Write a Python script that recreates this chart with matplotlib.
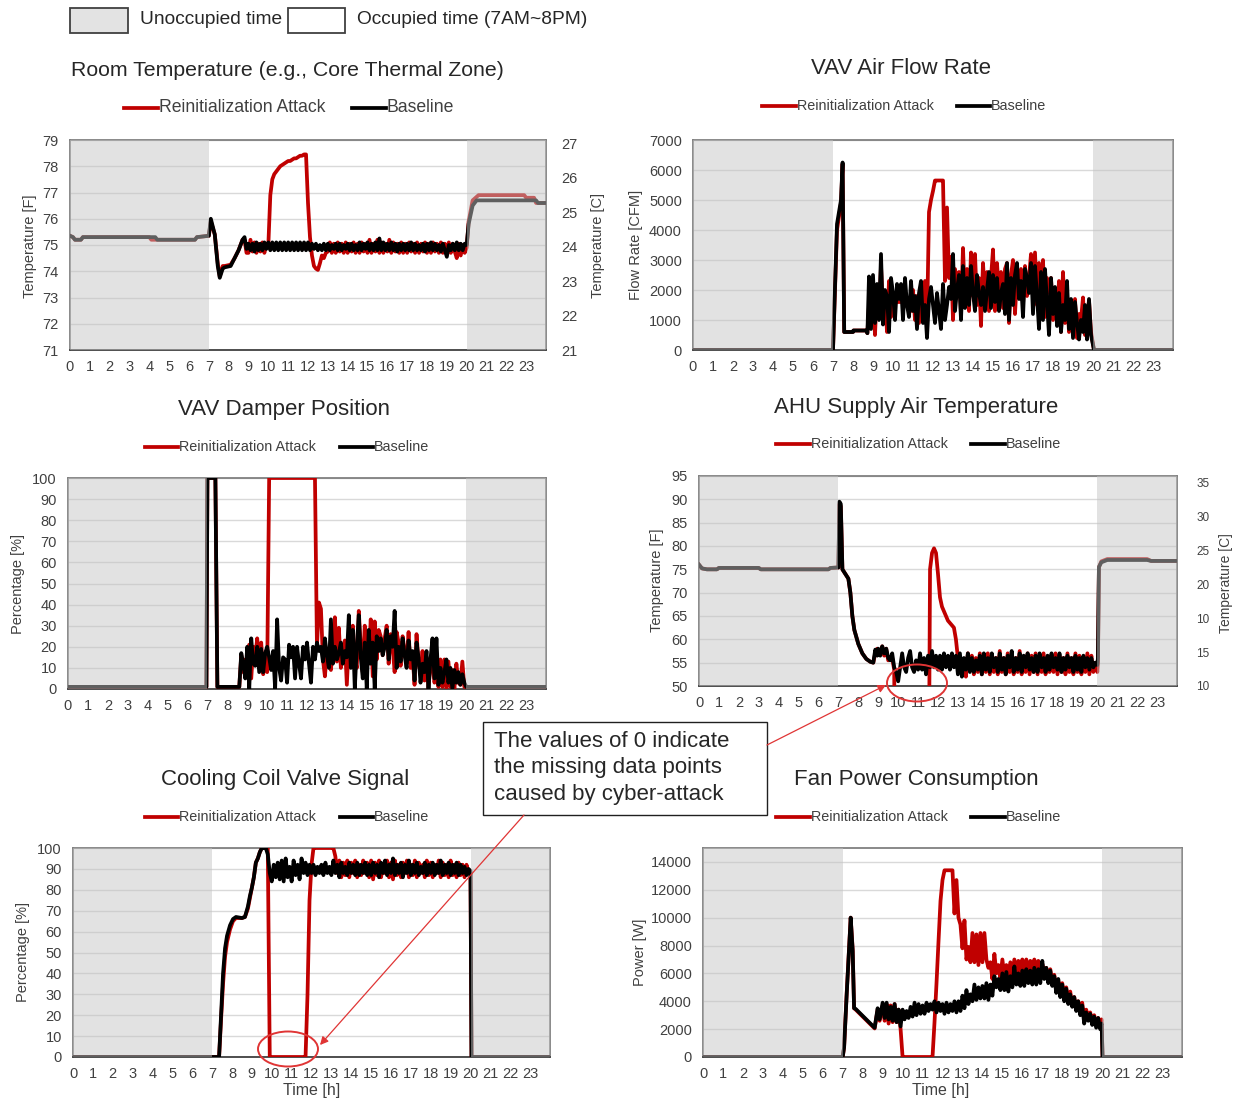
import numpy as np
import matplotlib
matplotlib.use("Agg")
import matplotlib.pyplot as plt
from matplotlib.patches import Rectangle, Ellipse, FancyArrowPatch
from matplotlib.lines import Line2D

plt.rcParams['font.family'] = ['Liberation Sans', 'DejaVu Sans']

# ---------------------------------------------------------------- data
HOUR_LABELS = [str(h) for h in range(24)]
GRID_START = 9.0      # noisy part sampled every 0.1 h from 9.0 to 19.9
GRID_STEP = 0.1

# --- Room temperature [F]
room_base_pre_t = [0, 0.15, 0.25, 0.55, 0.65, 4.3, 4.4, 6.3, 6.4, 7.0, 7.1, 7.3, 7.45, 7.55, 7.7, 7.8, 8.1, 8.3, 8.5, 8.7, 8.8, 8.9]
room_base_pre_v = [75.35, 75.3, 75.2, 75.2, 75.3, 75.3, 75.2, 75.2, 75.3, 75.35, 76.0, 75.4, 74.2, 73.75, 74.1, 74.15, 74.2, 74.5, 74.8, 75.2, 75.3, 74.85]
room_base_grid = [
    [75.05, 74.8, 75.05, 74.75, 75.1, 74.8, 75.05, 74.8, 75.1, 74.85],
    [75.1, 74.8, 75.1, 74.8, 75.1, 74.8, 75.1, 74.8, 75.1, 74.8],
    [75.1, 74.8, 75.1, 74.8, 75.1, 74.8, 75.1, 74.8, 75.1, 74.8],
    [75.1, 74.8, 75.05, 74.85, 75.05, 74.8, 75.0, 74.8, 75.05, 74.8],
    [75.05, 74.8, 75.0, 74.85, 75.05, 74.8, 75.05, 74.8, 75.0, 74.85],
    [75.05, 74.8, 75.05, 74.8, 75.0, 74.8, 75.1, 74.8, 75.05, 74.85],
    [75.1, 74.8, 75.05, 74.8, 75.1, 74.8, 75.25, 74.8, 75.1, 74.8],
    [75.05, 74.8, 75.1, 74.8, 75.05, 74.75, 75.05, 74.8, 75.05, 74.8],
    [75.05, 74.8, 75.1, 74.8, 75.05, 74.8, 75.0, 74.8, 75.05, 74.75],
    [75.05, 74.8, 75.1, 74.8, 75.05, 74.8, 75.0, 74.75, 75.05, 74.8],
    [74.55, 75.0, 74.8, 75.05, 74.8, 75.1, 74.8, 75.05, 74.8, 75.05],
]
room_base_post_t = [20.0, 20.1, 20.3, 20.5, 23.5, 23.6, 24.0]
room_base_post_v = [75.0, 75.8, 76.5, 76.7, 76.7, 76.6, 76.6]

room_att_pre_t = [0, 0.15, 0.25, 0.55, 0.65, 4.0, 4.1, 6.3, 6.4, 7.0, 7.1, 7.3, 7.45, 7.55, 7.7, 7.8, 8.1, 8.3, 8.5, 8.7, 8.8, 8.9]
room_att_pre_v = [75.35, 75.3, 75.2, 75.2, 75.3, 75.3, 75.2, 75.2, 75.3, 75.35, 75.9, 75.4, 74.3, 73.8, 74.2, 74.2, 74.25, 74.5, 74.8, 75.2, 75.2, 74.7]
room_att_grid = [
    [74.7, 75.2, 74.75, 75.1, 74.7, 75.05, 74.75, 75.1, 74.7, 75.0],
    [75.0, 76.9, 77.5, 77.7, 77.8, 77.9, 78.0, 78.05, 78.1, 78.15],
    [78.2, 78.2, 78.25, 78.3, 78.3, 78.35, 78.4, 78.4, 78.45, 78.45],
    [76.6, 75.3, 74.6, 74.2, 74.1, 74.05, 74.3, 74.6, 74.5, 74.7],
    [74.75, 75.1, 74.7, 75.05, 74.7, 75.1, 74.75, 75.05, 74.7, 75.1],
    [74.7, 75.05, 74.75, 75.1, 74.7, 75.05, 74.7, 75.1, 74.75, 75.05],
    [74.7, 75.2, 74.7, 75.05, 74.75, 75.2, 74.7, 75.1, 74.7, 75.05],
    [74.75, 75.2, 74.7, 75.1, 74.75, 75.05, 74.7, 75.1, 74.7, 75.05],
    [74.7, 75.1, 74.75, 75.05, 74.7, 75.1, 74.7, 75.05, 74.75, 75.1],
    [74.7, 75.05, 74.7, 75.1, 74.75, 75.05, 74.7, 75.1, 74.7, 75.05],
    [74.7, 75.1, 74.7, 75.05, 74.75, 74.5, 75.05, 74.6, 75.0, 74.7],
]
room_att_post_t = [20.0, 20.1, 20.3, 20.6, 22.9, 23.0, 23.4, 23.5, 24.0]
room_att_post_v = [74.9, 75.9, 76.7, 76.9, 76.9, 76.8, 76.8, 76.6, 76.6]

# --- VAV air flow rate [CFM]
flow_base_pre_t = [0, 7.0, 7.2, 7.4, 7.48, 7.56, 8.0, 8.02, 8.65, 8.72, 8.8, 8.9]
flow_base_pre_v = [0, 0, 4200, 5000, 6250, 600, 600, 650, 650, 560, 2450, 700]
flow_base_grid = [
    [2500, 900, 2200, 1000, 3200, 850, 2000, 1800, 600, 2400],
    [1900, 1000, 2200, 1700, 2200, 1000, 2400, 1500, 1100, 2300],
    [1300, 1800, 700, 1900, 2300, 900, 1500, 400, 1700, 2100],
    [1500, 900, 1900, 1300, 700, 2200, 1000, 1500, 2100, 1700],
    [3200, 1300, 2000, 2500, 1000, 2800, 1400, 2400, 1500, 2800],
    [1900, 1300, 2500, 1900, 1500, 2100, 1300, 2000, 2600, 1400],
    [2500, 1600, 2400, 1300, 1900, 2200, 1200, 2900, 1000, 2400],
    [1500, 2500, 2900, 1700, 2300, 1100, 2700, 2400, 1900, 2900],
    [1200, 2800, 1800, 700, 2600, 1000, 2700, 1600, 500, 2400],
    [1200, 2100, 800, 1900, 600, 1500, 1000, 2300, 700, 1700],
    [400, 1600, 900, 350, 1000, 600, 1500, 350, 1700, 500],
]
flow_base_post_t = [20.05, 24.0]
flow_base_post_v = [0, 0]

flow_att_pre_t = [0, 7.0, 7.2, 7.4, 7.48, 7.56, 8.0, 8.02, 8.65, 8.72, 8.8, 8.9]
flow_att_pre_v = [0, 0, 4000, 4900, 6200, 600, 600, 650, 650, 560, 1500, 2300]
flow_att_grid = [
    [1800, 500, 2100, 1200, 2800, 1400, 1900, 600, 2300, 1100],
    [1700, 1600, 1600, 1600, 1600, 1600, 1600, 1600, 1700, 1300],
    [2000, 1000, 1800, 900, 1900, 1200, 2300, 900, 4600, 5000],
    [5300, 5650, 5650, 5650, 5650, 5650, 2300, 4750, 2400, 3100],
    [1000, 2700, 2200, 2600, 1200, 3400, 1600, 2700, 1300, 3250],
    [1800, 3200, 1500, 2400, 800, 2900, 1700, 2600, 1300, 2400],
    [3350, 1300, 2900, 1800, 2600, 1400, 2700, 2900, 900, 2500],
    [3000, 1200, 2500, 1900, 2700, 1500, 2800, 1800, 2400, 3200],
    [1700, 3250, 1500, 2900, 1400, 3000, 1100, 2400, 1900, 2400],
    [1000, 2000, 1100, 2300, 600, 2600, 900, 1800, 600, 1300],
    [800, 1700, 400, 1200, 1000, 1750, 500, 1100, 1650, 600],
]
flow_att_post_t = [20.05, 24.0]
flow_att_post_v = [0, 0]

# --- VAV damper position [%]
damp_base_pre_t = [0, 6.95, 7.0, 7.4, 7.5, 8.6, 8.7, 8.8, 8.9]
damp_base_pre_v = [1, 1, 100, 100, 1, 1, 17, 12, 5]
damp_base_grid = [
    [20, 0, 24, 12, 11, 20, 8, 19, 8, 17],
    [20, 15, 9, 18, 0, 33, 10, 4, 15, 14],
    [3, 21, 15, 20, 5, 20, 12, 5, 20, 14],
    [22, 12, 3, 20, 14, 22, 18, 20, 13, 24],
    [16, 10, 33, 12, 20, 14, 17, 22, 12, 18],
    [15, 35, 10, 28, 0, 20, 35, 15, 5, 22],
    [0, 28, 12, 22, 0, 25, 18, 24, 16, 20],
    [28, 14, 25, 20, 37, 10, 20, 13, 24, 16],
    [10, 23, 14, 18, 4, 22, 15, 3, 12, 8],
    [18, 0, 14, 24, 5, 24, 2, 10, 3, 8],
    [14, 3, 10, 0, 9, 3, 8, 2, 7, 3],
]
damp_base_post_t = [20.0, 24.0]
damp_base_post_v = [1, 1]

damp_att_pre_t = [0, 6.95, 7.0, 7.4, 7.5, 8.6, 8.7, 8.8, 8.9]
damp_att_pre_v = [1, 1, 100, 100, 1, 1, 16, 8, 14]
damp_att_grid = [
    [8, 21, 5, 20, 15, 24, 10, 22, 7, 15],
    [8, 100, 100, 100, 100, 100, 100, 100, 100, 100],
    [100, 100, 100, 100, 100, 100, 100, 100, 100, 100],
    [100, 100, 100, 100, 100, 20, 41, 38, 14, 6],
    [18, 12, 9, 20, 34, 13, 29, 10, 18, 23],
    [2, 22, 16, 30, 14, 10, 37, 20, 8, 30],
    [20, 12, 33, 6, 32, 14, 28, 25, 16, 24],
    [30, 12, 26, 20, 8, 27, 22, 11, 25, 18],
    [12, 27, 10, 16, 2, 26, 12, 8, 18, 4],
    [14, 0, 13, 12, 3, 8, 1, 14, 1, 14],
    [0, 13, 1, 9, 0, 12, 3, 2, 13, 1],
]
damp_att_post_t = [20.0, 24.0]
damp_att_post_v = [1, 1]

# --- AHU supply air temperature [F]
sat_base_pre_t = [0, 0.15, 0.4, 0.9, 1.0, 3.0, 3.1, 6.5, 6.6, 7.0, 7.05, 7.12, 7.2, 7.35, 7.5, 7.6, 7.7, 7.8, 8.0, 8.2, 8.4, 8.6, 8.75, 8.85, 8.95]
sat_base_pre_v = [76.0, 75.2, 75.0, 75.0, 75.3, 75.3, 75.0, 75.0, 75.3, 75.4, 89.5, 89.0, 75.0, 74.0, 73.0, 70.0, 65.0, 62.0, 59.0, 57.0, 55.8, 55.2, 55.0, 57.8, 56.5]
sat_base_grid = [
    [58, 56.5, 58.5, 57, 58, 56, 55.5, 57, 54, 53],
    [51, 54, 57, 54, 53, 56, 57.5, 54, 53, 55.5],
    [53.5, 57, 53.5, 56, 52.5, 56.5, 54, 57.5, 54, 56.5],
    [53.5, 56.5, 53.5, 57, 54, 56.5, 53.5, 57, 54, 56.5],
    [52.5, 57, 52, 56, 53.5, 57, 53, 56, 53, 55.5],
    [53.5, 56.5, 52.5, 57, 53.5, 56, 53, 57, 54, 56],
    [53, 57, 53.5, 56, 52.5, 56.5, 54, 57.5, 53, 56],
    [53.5, 57, 53, 56.5, 54, 57, 53.5, 56, 53, 56.5],
    [53, 57, 54, 56, 53, 56.5, 53.5, 57, 54, 56],
    [53.5, 57, 53, 56, 53.5, 56.5, 54, 56, 53, 56.5],
    [53.5, 56, 53, 56.5, 54, 56, 53.5, 56, 54, 55],
]
sat_base_post_t = [20.0, 20.03, 20.08, 20.2, 20.5, 22.5, 22.7, 24.0]
sat_base_post_v = [54.5, 56.0, 75.5, 76.5, 77.0, 77.0, 76.8, 76.8]

sat_att_pre_t = [0, 0.15, 0.4, 0.9, 1.0, 3.0, 3.1, 6.5, 6.6, 7.0, 7.05, 7.12, 7.2, 7.35, 7.5, 7.6, 7.7, 7.8, 8.0, 8.2, 8.4, 8.6, 8.75, 8.85, 8.95]
sat_att_pre_v = [76.0, 75.2, 75.0, 75.0, 75.3, 75.3, 75.0, 75.0, 75.3, 75.4, 89.0, 88.5, 75.0, 74.0, 73.0, 70.0, 65.0, 62.0, 59.0, 57.0, 55.8, 55.2, 55.0, 57.0, 58.0]
sat_att_grid = [
    [57.5, 57, 58.5, 56.5, 58, 55.5, 56, 56, 53.5, 0],
    [0, 0, 0, 0, 0, 0, 0, 0, 0, 0],
    [0, 0, 0, 0, 0, 0, 75, 78.5, 79.5, 78.5],
    [74, 69, 67, 66, 65, 64, 63.5, 63, 62.5, 60],
    [56, 56, 53, 55.5, 52, 57, 53.5, 56.5, 52.5, 56],
    [53, 57, 52.5, 56, 53, 57, 52.5, 56.5, 53, 56],
    [52.5, 57.5, 53, 56, 52.5, 57, 53, 56.5, 52.5, 56],
    [53, 57.5, 52.5, 56, 53, 57, 52.5, 56.5, 53, 57],
    [52.5, 56.5, 53, 57, 52.5, 56, 53, 56.5, 53, 57],
    [52.5, 56.5, 53, 56, 52.5, 57, 53, 56, 52.5, 57],
    [53, 56.5, 52.5, 56, 53, 57, 52.5, 56.5, 53, 55],
]
sat_att_post_t = [20.0, 20.03, 20.08, 20.2, 20.5, 22.5, 22.7, 24.0]
sat_att_post_v = [53.0, 55.0, 75.5, 76.7, 77.2, 77.2, 76.8, 76.8]

# --- Cooling coil valve signal [%]
ccv_base_pre_t = [0, 7.35, 7.45, 7.55, 7.65, 7.75, 7.9, 8.05, 8.2, 8.5, 8.65, 8.8, 8.9]
ccv_base_pre_v = [0, 0, 20, 40, 52, 58, 63, 66, 67, 66.5, 67, 72, 77]
ccv_base_grid = [
    [81, 86, 93, 95, 98, 100, 100, 100, 97, 88],
    [84, 92, 86, 93, 85, 94, 84, 95, 86, 91],
    [84, 94, 87, 92, 85, 95, 88, 93, 87, 92],
    [88, 92, 87, 91, 88, 92, 87, 93, 88, 91],
    [87, 94, 88, 92, 86, 93, 88, 91, 87, 93],
    [88, 92, 87, 93, 87, 92, 88, 93, 87, 92],
    [87, 93, 88, 92, 86, 93, 88, 94, 87, 92],
    [88, 95, 87, 92, 88, 93, 86, 92, 88, 94],
    [87, 92, 88, 93, 87, 91, 88, 93, 87, 92],
    [88, 93, 87, 92, 88, 94, 87, 92, 88, 93],
    [87, 92, 88, 93, 87, 92, 88, 91, 87, 90],
]
ccv_base_post_t = [20.0, 20.05, 24.0]
ccv_base_post_v = [89, 0, 0]

ccv_att_pre_t = [0, 7.35, 7.45, 7.55, 7.65, 7.75, 7.9, 8.05, 8.2, 8.5, 8.65, 8.8, 8.9]
ccv_att_pre_v = [0, 0, 18, 35, 48, 55, 61, 65, 66.5, 66.5, 67, 71, 76]
ccv_att_grid = [
    [81, 86, 93, 95, 98, 100, 100, 100, 100, 0],
    [0, 0, 0, 0, 0, 0, 0, 0, 0, 0],
    [0, 0, 0, 0, 0, 0, 0, 0, 30, 75],
    [92, 100, 100, 100, 100, 100, 100, 100, 100, 100],
    [100, 100, 96, 88, 94, 86, 93, 87, 94, 86],
    [93, 88, 94, 86, 92, 87, 94, 88, 93, 86],
    [94, 85, 93, 87, 94, 86, 92, 88, 94, 86],
    [93, 85, 94, 87, 92, 86, 93, 88, 94, 86],
    [92, 87, 94, 86, 93, 88, 92, 86, 94, 87],
    [93, 86, 92, 88, 94, 86, 93, 87, 92, 86],
    [94, 87, 92, 86, 93, 87, 92, 86, 92, 88],
]
ccv_att_post_t = [20.0, 20.05, 24.0]
ccv_att_post_v = [88, 0, 0]

# --- Fan power consumption [W]
fan_base_pre_t = [0, 7.0, 7.07, 7.2, 7.4, 7.5, 7.57, 7.65, 8.6, 8.75, 8.85]
fan_base_pre_v = [0, 0, 700, 4500, 10000, 7600, 3500, 3450, 2100, 3500, 2700]
fan_base_grid = [
    [3900, 2800, 3900, 2700, 3600, 2600, 3800, 2500, 3400, 2200],
    [3400, 2700, 3300, 2800, 3600, 2900, 3900, 3000, 3800, 3100],
    [3700, 3100, 3900, 3300, 3800, 3400, 4000, 3200, 3900, 3300],
    [3800, 3100, 3900, 3200, 3800, 3300, 4000, 3200, 4000, 3300],
    [4400, 3500, 4800, 3800, 4500, 4000, 5200, 4100, 5000, 4200],
    [5100, 4200, 5300, 4100, 5200, 4400, 5800, 5000, 5600, 4800],
    [6000, 4800, 6100, 4700, 5800, 5000, 6500, 5200, 6000, 5100],
    [6200, 5100, 6300, 5300, 6200, 5200, 6400, 5200, 6300, 5300],
    [6900, 5600, 6400, 5300, 6200, 5100, 5800, 4600, 5600, 4300],
    [5200, 4000, 4900, 3800, 4500, 3600, 4300, 3300, 4000, 3000],
    [3700, 2400, 3200, 2600, 3100, 2300, 2900, 2100, 2800, 2000],
]
fan_base_post_t = [19.97, 20.02, 24.0]
fan_base_post_v = [2400, 0, 0]

fan_att_pre_t = [0, 7.0, 7.07, 7.2, 7.4, 7.5, 7.57, 7.65, 8.6, 8.75, 8.85]
fan_att_pre_v = [0, 0, 700, 4600, 10000, 7700, 3500, 3400, 2050, 3400, 2600]
fan_att_grid = [
    [3700, 2600, 3800, 2400, 3700, 2500, 3800, 2500, 3400, 2000],
    [0, 0, 0, 0, 0, 0, 0, 0, 0, 0],
    [0, 0, 0, 0, 0, 0, 2500, 5300, 8300, 11200],
    [12700, 13400, 13400, 13400, 13400, 13400, 10300, 12700, 10000, 9500],
    [7800, 9800, 7000, 7900, 6800, 8900, 6800, 8800, 6600, 8900],
    [6800, 8900, 7000, 6400, 6800, 5600, 7400, 6000, 6600, 5700],
    [7000, 5800, 6600, 5800, 6800, 5900, 7000, 6000, 6900, 6100],
    [7000, 5900, 7000, 6000, 6900, 6000, 7000, 6200, 6900, 6100],
    [6700, 6000, 6400, 5600, 6300, 5300, 5900, 5000, 5500, 4600],
    [5300, 4200, 5000, 3900, 4700, 3700, 4300, 3500, 4000, 3300],
    [3900, 2700, 3400, 2800, 3200, 2500, 3000, 2400, 2800, 2500],
]
fan_att_post_t = [19.97, 20.02, 24.0]
fan_att_post_v = [2700, 0, 0]

# ---------------------------------------------------------------- helpers
W, H = 1239, 1101
RED = '#C00000'
TXT = '#262626'
TICK = '#404040'
LW = 2.7

fig = plt.figure(figsize=(W / 100, H / 100), dpi=100)


def fx(x):
    return x / W


def fy(y):
    return 1 - y / H


def build(pre_t, pre_v, grid, post_t, post_v):
    g = np.array(grid, dtype=float).ravel()
    gt = GRID_START + GRID_STEP * np.arange(len(g))
    t = np.concatenate([pre_t, gt, post_t])
    v = np.concatenate([pre_v, g, post_v])
    return t, v


def make_axes(l, t, r, b, ylim, yticks):
    ax = fig.add_axes([fx(l), fy(b), (r - l) / W, (b - t) / H])
    ax.set_xlim(0, 24)
    ax.set_ylim(*ylim)
    ax.set_xticks(range(24))
    ax.set_xticklabels(HOUR_LABELS)
    ax.set_yticks(yticks)
    ax.tick_params(length=0, labelsize=10.5, colors=TICK, pad=8)
    ax.tick_params(axis='x', pad=7.5)
    ax.grid(axis='y', color='#D9D9D9', lw=1.0)
    ax.set_axisbelow(True)
    for s in ax.spines.values():
        s.set_color('#808080')
        s.set_linewidth(1.3)
    ax.spines['bottom'].set_color('#404040')
    ax.axvspan(0, 7, facecolor='#C4C4C4', alpha=0.49, lw=0, zorder=5)
    ax.axvspan(20, 24, facecolor='#C4C4C4', alpha=0.49, lw=0, zorder=5)
    return ax


def draw(ax, att, base):
    ax.plot(*build(*att), color=RED, lw=LW, zorder=3, solid_joinstyle='round')
    ax.plot(*build(*base), color='black', lw=LW, zorder=4, solid_joinstyle='round')


def legend(y, red_x, black_x, fs):
    for (x0, x1), col, lab in ((red_x, RED, 'Reinitialization Attack'),
                               (black_x, 'black', 'Baseline')):
        fig.add_artist(Line2D([fx(x0), fx(x1)], [fy(y), fy(y)], color=col, lw=2.7,
                              transform=fig.transFigure))
        fig.text(fx(x1 + 1), fy(y), lab, fontsize=fs, color=TICK, ha='left', va='center')


def title(x, y, s, fs=16):
    fig.text(fx(x), fy(y), s, fontsize=fs, color=TXT, ha='center', va='center')


def ylab(x, y, s, fs=10.5):
    fig.text(fx(x), fy(y), s, fontsize=fs, color=TICK, ha='center', va='center', rotation=90)


# ---------------------------------------------------------------- top legend
fig.add_artist(Rectangle((fx(70), fy(33)), 58 / W, 25 / H, transform=fig.transFigure,
                         facecolor='#E3E3E3', edgecolor='#404040', lw=1.3))
fig.text(fx(140), fy(20), 'Unoccupied time', fontsize=13.8, color=TXT, ha='left', va='center')
fig.add_artist(Rectangle((fx(288), fy(33)), 57 / W, 25 / H, transform=fig.transFigure,
                         facecolor='white', edgecolor='#404040', lw=1.3))
fig.text(fx(357), fy(20), 'Occupied time (7AM~8PM)', fontsize=13.8, color=TXT, ha='left', va='center')

# ---------------------------------------------------------------- panel 1
ax1 = make_axes(70, 140, 546, 350, (71, 79), range(71, 80))
draw(ax1, (room_att_pre_t, room_att_pre_v, room_att_grid, room_att_post_t, room_att_post_v),
     (room_base_pre_t, room_base_pre_v, room_base_grid, room_base_post_t, room_base_post_v))
ax1r = ax1.twinx()
ax1r.set_ylim(21, 27.09)
ax1r.set_yticks(range(21, 28))
ax1r.tick_params(length=0, labelsize=10.5, colors=TICK, pad=11)
for s in ax1r.spines.values():
    s.set_visible(False)
title(287, 70, 'Room Temperature (e.g., Core Thermal Zone)', fs=15.3)
legend(108, (124, 158), (352, 386), 12.7)
ylab(30, 246, 'Temperature [F]')
ylab(598, 245, 'Temperature [C]')

# ---------------------------------------------------------------- panel 2
ax2 = make_axes(693, 140, 1173, 350, (0, 7000), range(0, 7001, 1000))
draw(ax2, (flow_att_pre_t, flow_att_pre_v, flow_att_grid, flow_att_post_t, flow_att_post_v),
     (flow_base_pre_t, flow_base_pre_v, flow_base_grid, flow_base_post_t, flow_base_post_v))
title(901, 69, 'VAV Air Flow Rate')
legend(106, (762, 796), (957, 990), 10.4)
ylab(636, 245, 'Flow Rate [CFM]')

# ---------------------------------------------------------------- panel 3
ax3 = make_axes(68, 478, 546, 689, (0, 100), range(0, 101, 10))
draw(ax3, (damp_att_pre_t, damp_att_pre_v, damp_att_grid, damp_att_post_t, damp_att_post_v),
     (damp_base_pre_t, damp_base_pre_v, damp_base_grid, damp_base_post_t, damp_base_post_v))
title(284, 410, 'VAV Damper Position')
legend(447, (145, 178), (340, 373), 10.4)
ylab(18, 584, 'Percentage [%]')

# ---------------------------------------------------------------- panel 4
ax4 = make_axes(699, 476, 1177, 686, (50, 95), range(50, 96, 5))
draw(ax4, (sat_att_pre_t, sat_att_pre_v, sat_att_grid, sat_att_post_t, sat_att_post_v),
     (sat_base_pre_t, sat_base_pre_v, sat_base_grid, sat_base_post_t, sat_base_post_v))
ax4r = ax4.twinx()
ax4r.set_ylim(0, 6.18)
ax4r.set_yticks(range(7))
ax4r.set_yticklabels(['10', '15', '10', '20', '25', '30', '35'])
ax4r.tick_params(length=0, labelsize=8.5, colors=TICK, pad=14)
for s in ax4r.spines.values():
    s.set_visible(False)
title(916, 408, 'AHU Supply Air Temperature')
legend(444, (776, 810), (971, 1005), 10.4)
ylab(657, 580, 'Temperature [F]')
ylab(1226, 583, 'Temperature [C]', fs=10)

# ---------------------------------------------------------------- panel 5
ax5 = make_axes(73, 848, 550, 1057, (0, 100), range(0, 101, 10))
draw(ax5, (ccv_att_pre_t, ccv_att_pre_v, ccv_att_grid, ccv_att_post_t, ccv_att_post_v),
     (ccv_base_pre_t, ccv_base_pre_v, ccv_base_grid, ccv_base_post_t, ccv_base_post_v))
title(285, 780, 'Cooling Coil Valve Signal')
legend(817, (145, 178), (340, 373), 10.4)
ylab(23, 952, 'Percentage [%]')
fig.text(fx(312), fy(1090), 'Time [h]', fontsize=11.5, color=TICK, ha='center', va='center')

# ---------------------------------------------------------------- panel 6
ax6 = make_axes(703, 848, 1182, 1057, (0, 15000), range(0, 14001, 2000))
draw(ax6, (fan_att_pre_t, fan_att_pre_v, fan_att_grid, fan_att_post_t, fan_att_post_v),
     (fan_base_pre_t, fan_base_pre_v, fan_base_grid, fan_base_post_t, fan_base_post_v))
title(916, 780, 'Fan Power Consumption')
legend(817, (776, 810), (971, 1005), 10.4)
ylab(640, 952, 'Power [W]')
fig.text(fx(941), fy(1090), 'Time [h]', fontsize=11.5, color=TICK, ha='center', va='center')

# ---------------------------------------------------------------- annotation
fig.add_artist(Rectangle((fx(483), fy(815)), 284 / W, 93 / H, transform=fig.transFigure,
                         facecolor='white', edgecolor='#202020', lw=1.0, zorder=10))
fig.text(fx(494), fy(768), 'The values of 0 indicate\nthe missing data points\ncaused by cyber-attack',
         fontsize=16, color=TXT, ha='left', va='center', linespacing=1.32, zorder=11)
ANN = '#E03535'
for (x, y, w, h) in ((917, 683, 60, 37), (288, 1049, 60, 35)):
    fig.add_artist(Ellipse((fx(x), fy(y)), w / W, h / H, transform=fig.transFigure,
                           facecolor='none', edgecolor=ANN, lw=1.4, zorder=10))
for (p0, p1) in (((767, 745), (886, 685)), ((524, 815), (320, 1045))):
    fig.add_artist(FancyArrowPatch((fx(p0[0]), fy(p0[1])), (fx(p1[0]), fy(p1[1])),
                                   transform=fig.transFigure, arrowstyle='-|>',
                                   mutation_scale=12, color=ANN, lw=0.9, zorder=10,
                                   shrinkA=0, shrinkB=0))

fig.savefig('out.png', dpi=100)
